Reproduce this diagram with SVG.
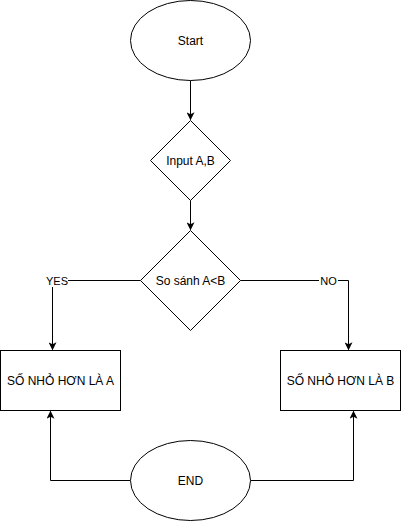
<svg xmlns="http://www.w3.org/2000/svg" width="401" height="521" viewBox="0 0 401 521">
<style>
.shape{fill:#ffffff;stroke:#000000;stroke-width:1}
.edge{fill:none;stroke:#000000;stroke-width:1}
.t{font-family:"Liberation Sans",Arial,sans-serif;font-size:12px;fill:#000000;text-anchor:middle;dominant-baseline:central}
.lbl{font-family:"Liberation Sans",Arial,sans-serif;font-size:11px;fill:#000000;text-anchor:middle;dominant-baseline:central}
</style>
<defs>
<marker id="arr" viewBox="0 0 10 10" refX="9" refY="5" markerWidth="8" markerHeight="8" markerUnits="userSpaceOnUse" orient="auto">
<path d="M0,0 L10,5 L0,10 L2.5,5 Z" fill="#000000"/>
</marker>
</defs>
<rect width="401" height="521" fill="#ffffff"/>
<g id="connectors">
<path class="edge" d="M190.5,80.5 L190.5,119.5" marker-end="url(#arr)"/>
<path class="edge" d="M190.5,200.5 L190.5,229.5" marker-end="url(#arr)"/>
<path class="edge" d="M140.5,280.5 L52.5,280.5 L52.5,349.5" marker-end="url(#arr)"/>
<path class="edge" d="M240.5,280.5 L348.5,280.5 L348.5,349.5" marker-end="url(#arr)"/>
<path class="edge" d="M130.5,480.5 L50.5,480.5 L50.5,411.5" marker-end="url(#arr)"/>
<path class="edge" d="M250.5,480.5 L353.5,480.5 L353.5,411.5" marker-end="url(#arr)"/>
<rect x="46" y="274" width="22" height="13" fill="#ffffff"/>
<text class="lbl" x="57" y="280.5">YES</text>
<rect x="319" y="274" width="19" height="13" fill="#ffffff"/>
<text class="lbl" x="328.5" y="280.5">NO</text>
</g>
<g id="start">
<ellipse class="shape" cx="190.5" cy="40.5" rx="60" ry="40"/>
<text class="t" x="190.5" y="40.5">Start</text>
</g>
<g id="input">
<path class="shape" d="M190.5,120.5 L230.5,160.5 L190.5,200.5 L150.5,160.5 Z"/>
<text class="t" x="190.5" y="160.5">Input A,B</text>
</g>
<g id="compare">
<path class="shape" d="M190.5,230.5 L240.5,280.5 L190.5,330.5 L140.5,280.5 Z"/>
<text class="t" x="190.5" y="280.5">So sánh A&lt;B</text>
</g>
<g id="boxA">
<rect class="shape" x="0.5" y="350.5" width="120" height="60"/>
<text class="t" x="60.5" y="380.5">SỐ NHỎ HƠN LÀ A</text>
</g>
<g id="boxB">
<rect class="shape" x="280.5" y="350.5" width="120" height="60"/>
<text class="t" x="340.5" y="380.5">SỐ NHỎ HƠN LÀ B</text>
</g>
<g id="end">
<ellipse class="shape" cx="190.5" cy="480.5" rx="60" ry="40"/>
<text class="t" x="190.5" y="480.5">END</text>
</g>
</svg>
